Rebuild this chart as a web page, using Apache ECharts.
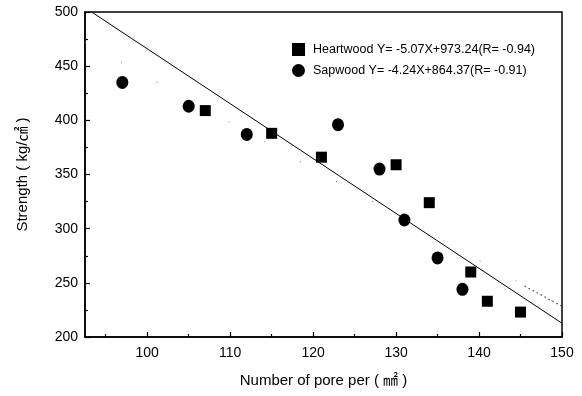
<!DOCTYPE html>
<html>
<head>
<meta charset="utf-8">
<script src="https://cdn.jsdelivr.net/npm/echarts@6/dist/echarts.min.js"></script>
<style>
  html, body { margin: 0; padding: 0; background: #fff; }
  #chart { width: 582px; height: 396px; }
</style>
</head>
<body>
<div id="chart"></div>
<script>
// pore count per mm² vs strength
const heartX = [107, 115, 121, 130, 134, 139, 141, 145];
const heartY = [409, 388, 366, 359, 324, 260, 233, 223];
const sapX = [97, 105, 112, 123, 128, 131, 135, 138];
const sapY = [435, 413, 387, 396, 355, 308, 273, 244];

// fitted lines, end points
const heartLineX = [93.3, 150];
const heartLineY = [500, 212.7];
const sapLineX = [92.5, 150];
const sapLineY = [472, 228.4];
const sapTailX = [145.5, 150];
const sapTailY = [247, 228.4];

const xLabels = [100, 110, 120, 130, 140, 150];
const xMinor = [95, 105, 115, 125, 135, 145];

const FONT = '"Liberation Sans", Arial, "Noto Sans CJK SC", sans-serif';
const zip = (xs, ys) => xs.map((x, i) => [x, ys[i]]);

const chart = echarts.init(document.getElementById("chart"));

const option = {
  animation: false,
  backgroundColor: "#fff",
  textStyle: { fontFamily: FONT, color: "#000" },
  grid: {
    left: 85, right: 20, top: 12, bottom: 59,
    show: true, borderColor: "#000", borderWidth: 1.5,
  },
  legend: {
    orient: "vertical",
    left: 287, top: 38,
    itemWidth: 13, itemHeight: 13, itemGap: 8,
    data: ["Heartwood", "Sapwood"],
    formatter: (name) =>
      name === "Heartwood"
        ? "Heartwood Y= -5.07X+973.24(R= -0.94)"
        : "Sapwood Y= -4.24X+864.37(R= -0.91)",
    textStyle: { fontFamily: FONT, fontSize: 12.5, color: "#000", padding: [0, 0, 0, 3] },
  },
  xAxis: [
    {
      type: "value",
      min: 92.5, max: 150,
      name: "Number of pore per ( ㎟ )",
      nameLocation: "middle",
      nameGap: 36,
      nameTextStyle: { fontFamily: FONT, fontSize: 15, color: "#000" },
      axisLine: { lineStyle: { color: "#000", width: 1.5 } },
      axisTick: { show: true, inside: true, length: 5, customValues: xLabels, lineStyle: { color: "#000", width: 1.2 } },
      axisLabel: { customValues: xLabels, fontFamily: FONT, fontSize: 14, color: "#000", margin: 9 },
      splitLine: { show: false },
    },
    {
      type: "value",
      min: 92.5, max: 150,
      position: "bottom",
      axisLine: { show: false },
      axisTick: { show: true, inside: true, length: 3, customValues: xMinor, lineStyle: { color: "#000", width: 1.2 } },
      axisLabel: { show: false },
      splitLine: { show: false },
    },
  ],
  yAxis: {
    type: "value",
    min: 200, max: 500, interval: 50,
    name: "Strength ( kg/㎠ )",
    nameLocation: "middle",
    nameGap: 55,
    nameTextStyle: { fontFamily: FONT, fontSize: 15, color: "#000" },
    axisLine: { show: true, lineStyle: { color: "#000", width: 1.5 } },
    axisTick: { show: true, inside: true, length: 5, lineStyle: { color: "#000", width: 1.2 } },
    minorTick: { show: true, splitNumber: 2, length: 3, lineStyle: { color: "#000", width: 1.2 } },
    axisLabel: { fontFamily: FONT, fontSize: 14, color: "#000", margin: 7 },
    splitLine: { show: false },
  },
  series: [
    {
      name: "Heartwood fit",
      type: "line",
      data: zip(heartLineX, heartLineY),
      symbol: "none",
      lineStyle: { color: "#000", width: 1 },
      silent: true,
    },
    {
      name: "Sapwood fit",
      type: "line",
      data: zip(sapLineX, sapLineY),
      symbol: "none",
      lineStyle: { color: "#777", width: 1, type: [1, 40] },
      silent: true,
    },
    {
      name: "Sapwood fit tail",
      type: "line",
      data: zip(sapTailX, sapTailY),
      symbol: "none",
      lineStyle: { color: "#444", width: 1.2, type: [1.5, 3] },
      silent: true,
    },
    {
      name: "Heartwood",
      type: "scatter",
      data: zip(heartX, heartY),
      symbol: "rect",
      symbolSize: 11,
      itemStyle: { color: "#000", opacity: 1 },
    },
    {
      name: "Sapwood",
      type: "scatter",
      data: zip(sapX, sapY),
      symbol: "circle",
      symbolSize: [12, 13],
      itemStyle: { color: "#000", opacity: 1 },
    },
  ],
};

chart.setOption(option);
window.addEventListener("resize", () => chart.resize());
</script>
</body>
</html>
